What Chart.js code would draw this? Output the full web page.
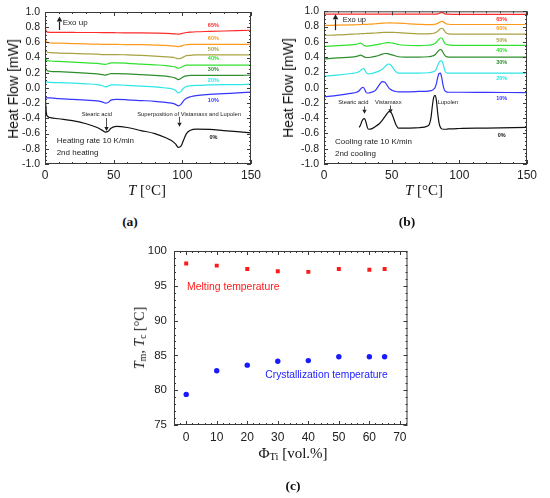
<!DOCTYPE html>
<html>
<head>
<meta charset="utf-8">
<script src="https://cdn.jsdelivr.net/npm/chart.js@4.4.1/dist/chart.umd.min.js"></script>
<style>
  body { margin: 0; width: 550px; height: 498px; background: #fff; position: relative; overflow: hidden;
         font-family: "Liberation Sans", Arial, sans-serif; }
  canvas { position: absolute; }
  .t { position: absolute; white-space: nowrap; color: #111; transform: translate(-50%, -50%); line-height: 1; }
  .rot { transform: translate(-50%, -50%) rotate(-90deg); }
  .ser { font-family: "Liberation Serif", "Times New Roman", serif; }
  .tag { font-family: "Liberation Serif", serif; font-weight: bold; font-size: 13.5px; }
  sub { font-size: 70%; vertical-align: -0.25em; line-height: 0; }
</style>
</head>
<body>
<canvas id="heat" width="275" height="200" style="left:0;top:0"></canvas>
<canvas id="cool" width="275" height="200" style="left:275px;top:0"></canvas>
<canvas id="peaks" width="550" height="230" style="left:0;top:230px"></canvas>

<div class="t rot" style="left:13px;top:89px;font-size:14px">Heat Flow [mW]</div>
<div class="t rot" style="left:288px;top:88px;font-size:14px">Heat Flow [mW]</div>
<div class="t ser" style="left:147px;top:190px;font-size:15px"><i>T</i> [°C]</div>
<div class="t ser" style="left:424px;top:190px;font-size:15px"><i>T</i> [°C]</div>
<div class="t tag" style="left:130px;top:222px">(a)</div>
<div class="t tag" style="left:407px;top:222px">(b)</div>
<div class="t ser rot" style="left:140px;top:338px;font-size:14px"><i>T</i><sub>m</sub>, <i>T</i><sub>c</sub> [°C]</div>
<div class="t ser" style="left:293px;top:453px;font-size:15px">Φ<sub>Ti</sub> [vol.%]</div>
<div class="t tag" style="left:293px;top:486px">(c)</div>

<script>
// --- data ---
const pctLabels = ["0%", "10%", "20%", "30%", "40%", "50%", "60%", "65%"];
const curveColors = ["#111111", "#3535ff", "#2fe6e6", "#2e8e2e", "#30e030", "#a9a141", "#ff9a1c", "#ff2a2a"];

// (a) 2nd heating
const heatT = [0, 1, 2, 4, 10, 20, 30, 38, 42, 44, 46, 48, 52, 60, 70, 80, 88, 92, 95, 97, 99, 101, 103, 106, 110, 120, 130, 140, 150];
const heat0 = [-0.05, -0.33, -0.375, -0.39, -0.405, -0.43, -0.47, -0.52, -0.56, -0.58, -0.57, -0.53, -0.505, -0.52, -0.56, -0.60, -0.655, -0.69, -0.735, -0.78, -0.765, -0.68, -0.60, -0.555, -0.54, -0.545, -0.56, -0.575, -0.59];
const heat10 = [-0.13, -0.13, -0.13, -0.13, -0.14, -0.15, -0.16, -0.17, -0.185, -0.20, -0.19, -0.16, -0.15, -0.155, -0.165, -0.175, -0.19, -0.20, -0.215, -0.235, -0.215, -0.165, -0.135, -0.115, -0.10, -0.085, -0.075, -0.065, -0.055];
const heat20 = [0.09, 0.08, 0.078, 0.075, 0.07, 0.065, 0.055, 0.045, 0.03, 0.015, 0.025, 0.04, 0.04, 0.035, 0.025, 0.015, 0.0, -0.01, -0.03, -0.065, -0.045, 0.0, 0.02, 0.03, 0.035, 0.04, 0.045, 0.045, 0.05];
const heat30 = [0.30, 0.24, 0.225, 0.22, 0.215, 0.205, 0.195, 0.185, 0.175, 0.17, 0.18, 0.19, 0.19, 0.185, 0.175, 0.165, 0.155, 0.145, 0.13, 0.11, 0.125, 0.15, 0.16, 0.165, 0.165, 0.165, 0.165, 0.165, 0.17];
const heat40 = [0.42, 0.37, 0.36, 0.355, 0.35, 0.34, 0.33, 0.325, 0.315, 0.31, 0.32, 0.33, 0.33, 0.325, 0.315, 0.305, 0.295, 0.285, 0.275, 0.26, 0.27, 0.29, 0.30, 0.30, 0.30, 0.30, 0.30, 0.30, 0.30];
const heat50 = [0.52, 0.48, 0.47, 0.465, 0.46, 0.455, 0.45, 0.445, 0.44, 0.44, 0.44, 0.44, 0.44, 0.435, 0.43, 0.42, 0.41, 0.405, 0.395, 0.385, 0.39, 0.41, 0.425, 0.43, 0.435, 0.435, 0.435, 0.435, 0.435];
const heat60 = [0.66, 0.61, 0.60, 0.595, 0.59, 0.585, 0.58, 0.577, 0.575, 0.575, 0.575, 0.575, 0.575, 0.57, 0.57, 0.565, 0.56, 0.555, 0.55, 0.545, 0.55, 0.565, 0.57, 0.575, 0.575, 0.575, 0.575, 0.575, 0.575];
const heat65 = [0.80, 0.745, 0.735, 0.733, 0.732, 0.731, 0.73, 0.73, 0.729, 0.728, 0.728, 0.728, 0.727, 0.726, 0.725, 0.723, 0.72, 0.716, 0.712, 0.708, 0.714, 0.724, 0.73, 0.735, 0.74, 0.745, 0.75, 0.755, 0.76];

// (b) 2nd cooling
const coolT = [0, 10, 20, 24, 26, 27, 28, 29, 30, 31, 32, 33, 35, 38, 41, 43, 45, 47, 48, 49, 51, 53, 55, 60, 70, 77, 79, 80, 81, 82, 83, 84, 85, 86, 87, 88, 89, 90, 92, 95, 100, 120, 150];
const cool0 = [null, null, null, null, -0.52, -0.49, -0.44, -0.41, -0.405, -0.45, -0.52, -0.545, -0.54, -0.51, -0.47, -0.43, -0.38, -0.33, -0.315, -0.315, -0.38, -0.48, -0.53, -0.53, -0.525, -0.50, -0.40, -0.25, -0.13, -0.10, -0.16, -0.33, -0.46, -0.52, -0.54, -0.545, -0.545, -0.545, -0.54, -0.54, -0.535, -0.53, -0.52];
const cool10 = [-0.12, -0.10, -0.075, -0.06, -0.04, -0.02, 0.0, 0.005, -0.02, -0.06, -0.07, -0.07, -0.06, -0.035, 0.04, 0.078, 0.07, 0.02, -0.005, -0.02, -0.04, -0.05, -0.055, -0.055, -0.05, -0.045, -0.04, -0.035, -0.02, 0.0, 0.05, 0.13, 0.185, 0.19, 0.13, 0.03, -0.03, -0.05, -0.06, -0.06, -0.06, -0.062, -0.065];
const cool20 = [0.15, 0.165, 0.185, 0.195, 0.21, 0.225, 0.24, 0.248, 0.235, 0.205, 0.185, 0.18, 0.185, 0.20, 0.22, 0.24, 0.275, 0.305, 0.31, 0.30, 0.26, 0.21, 0.19, 0.19, 0.19, 0.195, 0.20, 0.205, 0.21, 0.22, 0.245, 0.29, 0.33, 0.35, 0.35, 0.31, 0.24, 0.20, 0.19, 0.19, 0.19, 0.19, 0.19];
const cool30 = [0.375, 0.39, 0.40, 0.41, 0.42, 0.425, 0.42, 0.41, 0.40, 0.395, 0.395, 0.395, 0.40, 0.41, 0.425, 0.44, 0.447, 0.445, 0.44, 0.435, 0.425, 0.415, 0.405, 0.40, 0.40, 0.405, 0.41, 0.415, 0.42, 0.43, 0.45, 0.47, 0.49, 0.50, 0.49, 0.46, 0.43, 0.41, 0.40, 0.40, 0.40, 0.40, 0.40];
const cool40 = [0.54, 0.55, 0.56, 0.57, 0.578, 0.582, 0.575, 0.56, 0.55, 0.545, 0.545, 0.547, 0.55, 0.56, 0.57, 0.578, 0.585, 0.59, 0.59, 0.588, 0.582, 0.575, 0.565, 0.555, 0.55, 0.555, 0.56, 0.565, 0.57, 0.58, 0.595, 0.615, 0.635, 0.65, 0.65, 0.625, 0.59, 0.57, 0.56, 0.555, 0.555, 0.555, 0.555];
const cool50 = [0.685, 0.69, 0.70, 0.703, 0.705, 0.706, 0.707, 0.708, 0.709, 0.71, 0.71, 0.711, 0.713, 0.716, 0.72, 0.722, 0.724, 0.725, 0.725, 0.725, 0.724, 0.722, 0.72, 0.715, 0.705, 0.705, 0.707, 0.709, 0.712, 0.717, 0.725, 0.738, 0.755, 0.77, 0.778, 0.77, 0.745, 0.72, 0.705, 0.70, 0.70, 0.70, 0.70];
const cool60 = [0.815, 0.818, 0.822, 0.824, 0.825, 0.826, 0.827, 0.828, 0.829, 0.83, 0.83, 0.831, 0.833, 0.837, 0.841, 0.844, 0.846, 0.848, 0.848, 0.848, 0.847, 0.846, 0.845, 0.84, 0.83, 0.825, 0.825, 0.826, 0.828, 0.83, 0.835, 0.842, 0.852, 0.862, 0.868, 0.865, 0.852, 0.838, 0.83, 0.827, 0.827, 0.827, 0.827];
const cool65 = [0.962, 0.962, 0.962, 0.962, 0.962, 0.962, 0.962, 0.962, 0.962, 0.962, 0.962, 0.962, 0.962, 0.962, 0.962, 0.962, 0.962, 0.962, 0.962, 0.962, 0.962, 0.962, 0.962, 0.962, 0.962, 0.962, 0.962, 0.962, 0.962, 0.962, 0.963, 0.966, 0.972, 0.979, 0.982, 0.979, 0.970, 0.964, 0.962, 0.961, 0.961, 0.961, 0.960];

// (c) peak temperatures
const tiFraction = [0, 10, 20, 30, 40, 50, 60, 65];
const meltTemp = [98.2, 97.9, 97.4, 97.1, 97.0, 97.4, 97.3, 97.4];
const crystTemp = [79.4, 82.8, 83.6, 84.15, 84.25, 84.8, 84.8, 84.8];

// --- helpers ---
const toPoints = (xs, ys) => xs.map((x, i) => ({ x, y: ys[i] })).filter((p) => p.y !== null);
const ink = "#222";
const sans = "Liberation Sans";

// frame around the plot area with inward ticks on all four sides
const boxTicks = {
  id: "boxTicks",
  afterDatasetsDraw(chart, args, o) {
    const { ctx, chartArea: a, scales: { x, y } } = chart;
    ctx.save();
    ctx.strokeStyle = "#3a3a3a";
    ctx.lineWidth = 1;
    ctx.strokeRect(a.left + 0.5, a.top + 0.5, a.width - 1, a.height - 1);
    const along = (scale, step, major, draw) => {
      const n = Math.round((scale.max - scale.min) / step) + 1;
      const first = Math.ceil(scale.min / step - 1e-9) * step;
      for (let i = 0; i < n + 1; i++) {
        const v = first + i * step;
        if (v > scale.max + 1e-9) break;
        const isMajor = Math.abs(v / major - Math.round(v / major)) < 1e-6;
        draw(Math.round(scale.getPixelForValue(v)) + 0.5, isMajor ? o.major : o.minor);
      }
    };
    ctx.beginPath();
    along(x, o.xMinor, o.xMajor, (p, len) => {
      ctx.moveTo(p, a.bottom); ctx.lineTo(p, a.bottom - len);
      ctx.moveTo(p, a.top); ctx.lineTo(p, a.top + len);
    });
    along(y, o.yMinor, o.yMajor, (p, len) => {
      ctx.moveTo(a.left, p); ctx.lineTo(a.left + len, p);
      ctx.moveTo(a.right, p); ctx.lineTo(a.right - len, p);
    });
    ctx.stroke();
    ctx.restore();
  },
};

// text labels and arrows placed in data coordinates
const notes = {
  id: "notes",
  afterDatasetsDraw(chart, args, o) {
    const { ctx, scales: { x, y } } = chart;
    ctx.save();
    ctx.textBaseline = "middle";
    (o.texts || []).forEach((t) => {
      ctx.font = t.font;
      ctx.fillStyle = t.color || ink;
      ctx.textAlign = t.align || "left";
      ctx.fillText(t.text, x.getPixelForValue(t.x), y.getPixelForValue(t.y));
    });
    (o.arrows || []).forEach((ar) => {
      const px = Math.round(x.getPixelForValue(ar.x)) + 0.5;
      const p1 = y.getPixelForValue(ar.from);
      const p2 = y.getPixelForValue(ar.to);
      const dir = p2 > p1 ? 1 : -1;
      const h = ar.head || 4;
      ctx.strokeStyle = ink;
      ctx.fillStyle = ink;
      ctx.lineWidth = ar.width || 0.8;
      ctx.beginPath();
      ctx.moveTo(px, p1);
      ctx.lineTo(px, p2 - dir * h);
      ctx.stroke();
      ctx.beginPath();
      ctx.moveTo(px, p2);
      ctx.lineTo(px - h * 0.55, p2 - dir * h);
      ctx.lineTo(px + h * 0.55, p2 - dir * h);
      ctx.closePath();
      ctx.fill();
    });
    ctx.restore();
  },
};

function dscChart(id, xs, rows, cfg) {
  return new Chart(document.getElementById(id), {
    type: "line",
    data: {
      datasets: rows.map((r, i) => ({
        label: pctLabels[i],
        data: toPoints(xs, r),
        borderColor: curveColors[i],
        borderWidth: 1.2,
        pointRadius: 0,
        fill: false,
        cubicInterpolationMode: "monotone",
      })),
    },
    options: {
      responsive: false,
      animation: false,
      layout: { padding: { left: 0, right: cfg.padRight, top: cfg.padTop, bottom: 0 } },
      plugins: {
        legend: { display: false },
        tooltip: { enabled: false },
        boxTicks: { xMajor: 50, xMinor: 10, yMajor: 0.2, yMinor: 0.05, major: 4, minor: 2 },
        notes: { texts: cfg.texts, arrows: cfg.arrows },
      },
      scales: {
        x: {
          type: "linear", min: 0, max: 150,
          grid: { display: false, drawTicks: false },
          border: { display: false },
          ticks: { stepSize: 50, padding: 4, color: ink, font: { family: sans, size: 12 } },
          afterFit: (s) => { s.height = 36; },
        },
        y: {
          min: -1, max: 1,
          grid: { display: false, drawTicks: false },
          border: { display: false },
          ticks: {
            stepSize: 0.2, padding: 5, autoSkip: false, color: ink, font: { family: sans, size: 10.5 },
            callback: (v) => (Math.abs(v) < 1e-9 ? 0 : v).toFixed(1),
          },
          afterFit: (s) => { s.width = cfg.yWidth; },
        },
      },
    },
    plugins: [boxTicks, notes],
  });
}

const small = "5.8px " + sans;
const mid = "8px " + sans;
const pct = "bold 5.5px " + sans;

// positions of the percentage tags next to each curve
const heatTagY = [-0.654, -0.167, 0.105, 0.25, 0.382, 0.513, 0.645, 0.82];
const coolTagY = [-0.623, -0.147, 0.12, 0.33, 0.49, 0.623, 0.77, 0.89];

dscChart("heat", heatT, [heat0, heat10, heat20, heat30, heat40, heat50, heat60, heat65], {
  padRight: 24, padTop: 12, yWidth: 45,
  texts: [
    { text: "Exo up", x: 12.9, y: 0.855, font: mid },
    { text: "Stearic acid", x: 37.7, y: -0.342, font: small, align: "center" },
    { text: "Superposition of Vistamaxx and Lupolen", x: 104.9, y: -0.342, font: small, align: "center" },
    { text: "Heating rate 10 K/min", x: 8.5, y: -0.697, font: mid },
    { text: "2nd heating", x: 8.5, y: -0.855, font: mid },
    ...pctLabels.map((p, i) => ({ text: p, x: 122.6, y: heatTagY[i], font: pct, color: curveColors[i], align: "center" })),
  ],
  arrows: [
    { x: 10.2, from: 0.763, to: 0.94, head: 5, width: 1.2 },
    { x: 44.2, from: -0.395, to: -0.566 },
    { x: 97.8, from: -0.378, to: -0.51 },
  ],
});

dscChart("cool", coolT, [cool0, cool10, cool20, cool30, cool40, cool50, cool60, cool65], {
  padRight: 23, padTop: 10, yWidth: 49,
  texts: [
    { text: "Exo up", x: 13.8, y: 0.883, font: "7.5px " + sans },
    { text: "Stearic acid", x: 21.7, y: -0.19, font: small, align: "center" },
    { text: "Vistamaxx", x: 47.5, y: -0.19, font: small, align: "center" },
    { text: "Lupolen", x: 91.6, y: -0.19, font: small, align: "center" },
    { text: "Cooling rate 10 K/min", x: 8.1, y: -0.71, font: mid },
    { text: "2nd cooling", x: 8.1, y: -0.87, font: mid },
    ...pctLabels.map((p, i) => ({ text: p, x: 131.3, y: coolTagY[i], font: pct, color: curveColors[i], align: "center" })),
  ],
  arrows: [
    { x: 8.1, from: 0.753, to: 0.96, head: 5, width: 1.2 },
    { x: 29.8, from: -0.247, to: -0.342 },
    { x: 48.8, from: -0.234, to: -0.334 },
  ],
});

new Chart(document.getElementById("peaks"), {
  type: "scatter",
  data: {
    datasets: [
      {
        label: "Melting temperature",
        data: toPoints(tiFraction, meltTemp),
        pointStyle: "rect", pointRadius: 2.8,
        backgroundColor: "#ff1a1a", borderColor: "#ff1a1a", borderWidth: 0,
      },
      {
        label: "Crystallization temperature",
        data: toPoints(tiFraction, crystTemp),
        pointStyle: "circle", pointRadius: 2.7,
        backgroundColor: "#1a1aff", borderColor: "#1a1aff", borderWidth: 0,
      },
    ],
  },
  options: {
    responsive: false,
    animation: false,
    layout: { padding: { left: 0, right: 142.5, top: 21, bottom: 0 } },
    plugins: {
      legend: { display: false },
      tooltip: { enabled: false },
      boxTicks: { xMajor: 10, xMinor: 2, yMajor: 5, yMinor: 1, major: 4, minor: 2 },
      notes: {
        texts: [
          { text: "Melting temperature", x: 0.3, y: 94.8, font: "10.4px " + sans, color: "#ff1a1a" },
          { text: "Crystallization temperature", x: 25.9, y: 82.1, font: "10.3px " + sans, color: "#1a1aff" },
        ],
      },
    },
    scales: {
      x: {
        type: "linear", min: -4, max: 72.5,
        grid: { display: false, drawTicks: false },
        border: { display: false },
        ticks: { stepSize: 10, padding: 5, autoSkip: false, color: ink, font: { family: sans, size: 12 },
                 callback: (v) => (v >= 0 && v % 10 === 0 ? v : "") },
        afterBuildTicks: (s) => { s.ticks = [0, 10, 20, 30, 40, 50, 60, 70].map((v) => ({ value: v })); },
        afterFit: (s) => { s.height = 35; },
      },
      y: {
        min: 75, max: 100,
        grid: { display: false, drawTicks: false },
        border: { display: false },
        ticks: { stepSize: 5, padding: 7, autoSkip: false, color: ink, font: { family: sans, size: 11.5 } },
        afterFit: (s) => { s.width = 174; },
      },
    },
  },
  plugins: [boxTicks, notes],
});
</script>
</body>
</html>
